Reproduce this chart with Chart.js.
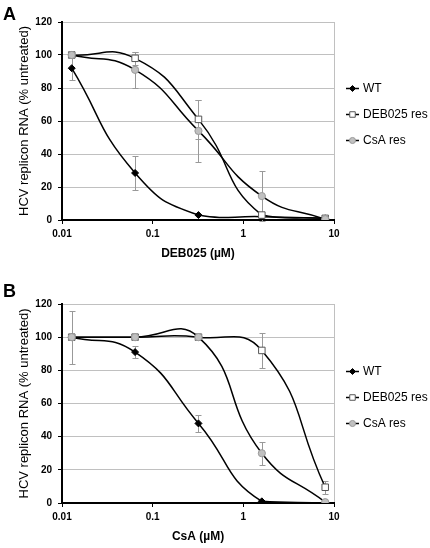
<!DOCTYPE html>
<html>
<head>
<meta charset="utf-8">
<script src="https://cdn.jsdelivr.net/npm/chart.js@4.4.1/dist/chart.umd.min.js"></script>
<style>
  html, body { margin: 0; padding: 0; background: #fff; }
  canvas { display: block; }
</style>
</head>
<body>
<canvas id="chartA" width="430" height="270"></canvas>
<canvas id="chartB" width="430" height="278"></canvas>
<script>
const concentrations = [0.0128, 0.064, 0.32, 1.6, 8];
const seriesNames = ['WT', 'DEB025 res', 'CsA res'];
const xTickValues = [0.01, 0.1, 1, 10];

// panel A - DEB025 titration
const wtA = [92, 28.5, 3, 2, 1];
const debResA = [100, 98, 61, 3, 1];
const csaResA = [100, 91, 54, 14.5, 0.5];
const wtErrA = [7, 10.5, 0, 0, 0];
const debResErrA = [0, 4, 12, 0, 0];
const csaResErrA = [0, 11, 19, 15, 0];

// panel B - CsA titration
const wtB = [100, 91, 48, 1, 0];
const debResB = [100, 100, 100, 92, 9.5];
const csaResB = [100, 100, 100, 30, 0.5];
const wtErrB = [0, 3.5, 5, 0, 0];
const debResErrB = [16, 0, 0, 10.5, 4];
const csaResErrB = [0, 0, 0, 7, 0];

const looks = [
  { pointStyle: 'rectRot', radius: 3.5, fill: '#000', stroke: '#000' },
  { pointStyle: 'rect', radius: 4.6, fill: '#fff', stroke: '#555' },
  { pointStyle: 'circle', radius: 3.6, fill: '#c0c0c0', stroke: '#999' }
];

function makeDataset(i, values, errors) {
  return {
    label: seriesNames[i],
    data: concentrations.map((c, k) => ({ x: c, y: values[k] })),
    errors: errors,
    order: 2 - i, // gray circles end up on top, like the original
    borderColor: '#000',
    borderWidth: 1.5,
    tension: 0.5,
    pointStyle: looks[i].pointStyle,
    pointRadius: looks[i].radius,
    pointBackgroundColor: looks[i].fill,
    pointBorderColor: looks[i].stroke,
    pointBorderWidth: 1
  };
}

const errorBars = {
  id: 'errorBars',
  beforeDatasetsDraw(chart) {
    const { ctx, scales: { x, y } } = chart;
    ctx.save();
    ctx.strokeStyle = '#999';
    ctx.lineWidth = 1;
    chart.data.datasets.forEach(ds => {
      ds.errors.forEach((e, i) => {
        if (!e) return;
        const p = ds.data[i];
        const px = Math.round(x.getPixelForValue(p.x)) + 0.5;
        const top = Math.round(y.getPixelForValue(p.y + e)) + 0.5;
        const bot = Math.round(y.getPixelForValue(p.y - e)) + 0.5;
        ctx.beginPath();
        ctx.moveTo(px, top); ctx.lineTo(px, bot);
        ctx.moveTo(px - 3, top); ctx.lineTo(px + 3, top);
        ctx.moveTo(px - 3, bot); ctx.lineTo(px + 3, bot);
        ctx.stroke();
      });
    });
    ctx.restore();
  }
};

const sideLegend = {
  id: 'sideLegend',
  afterDraw(chart) {
    const { ctx, chartArea } = chart;
    const x0 = chartArea.right + 12;
    const midY = (chartArea.top + chartArea.bottom) / 2 - 7;
    ctx.save();
    chart.data.datasets.forEach((ds, i) => {
      const yy = Math.round(midY + (i - 1) * 26) + 0.5;
      ctx.strokeStyle = '#000';
      ctx.lineWidth = 1.5;
      ctx.beginPath();
      ctx.moveTo(x0, yy); ctx.lineTo(x0 + 13, yy);
      ctx.stroke();
      ctx.fillStyle = looks[i].fill;
      ctx.strokeStyle = looks[i].stroke;
      ctx.lineWidth = 1;
      Chart.helpers.drawPoint(ctx, { pointStyle: looks[i].pointStyle, radius: looks[i].radius * 0.85, rotation: 0, borderWidth: 1 }, x0 + 6.5, yy);
      ctx.fillStyle = '#000';
      ctx.font = '12px "Liberation Sans", Arial, sans-serif';
      ctx.textBaseline = 'middle';
      ctx.fillText(ds.label, x0 + 17, yy);
    });
    ctx.restore();
  }
};

const panelLetter = {
  id: 'panelLetter',
  afterDraw(chart, args, opts) {
    const { ctx } = chart;
    ctx.save();
    ctx.fillStyle = '#000';
    ctx.font = 'bold 18px "Liberation Sans", Arial, sans-serif';
    ctx.textBaseline = 'alphabetic';
    ctx.fillText(opts.text, 3, opts.baseline);
    ctx.restore();
  }
};

Chart.defaults.color = '#000';
Chart.defaults.font.family = '"Liberation Sans", Arial, sans-serif';

function makeChart(id, letter, letterBase, xTitle, datasets, topPad, xHeight, xTitlePad) {
  return new Chart(document.getElementById(id), {
    type: 'line',
    data: { datasets: datasets },
    plugins: [errorBars, sideLegend, panelLetter],
    options: {
      responsive: false,
      animation: false,
      layout: { padding: { top: topPad, right: 96, left: 0, bottom: 0 } },
      plugins: {
        legend: { display: false },
        tooltip: { enabled: false },
        panelLetter: { text: letter, baseline: letterBase }
      },
      scales: {
        x: {
          type: 'logarithmic',
          min: 0.01,
          max: 10,
          afterBuildTicks: scale => { scale.ticks = xTickValues.map(v => ({ value: v })); },
          afterFit: scale => { scale.height = xHeight; },
          ticks: {
            callback: v => String(v),
            font: { size: 10, weight: 'bold' },
            padding: 4,
            maxRotation: 0,
            autoSkip: false
          },
          grid: {
            color: c => (c.tick && c.tick.value === 10) ? '#c0c0c0' : 'rgba(0,0,0,0)',
            tickColor: '#000',
            tickLength: 4,
            lineWidth: 1
          },
          border: { color: '#000', width: 2 },
          title: {
            display: true,
            text: xTitle,
            font: { size: 12, weight: 'bold' },
            padding: { top: 0, bottom: xTitlePad }
          }
        },
        y: {
          min: 0,
          max: 120,
          afterFit: scale => { scale.width = 62; },
          ticks: {
            stepSize: 20,
            font: { size: 10, weight: 'bold' },
            padding: 6
          },
          grid: {
            color: '#c0c0c0',
            tickColor: '#000',
            tickLength: 4,
            lineWidth: 1
          },
          border: { color: '#000', width: 2 },
          title: {
            display: true,
            text: 'HCV replicon RNA (% untreated)',
            font: { size: 13 },
            padding: { top: 17, bottom: 0 }
          }
        }
      }
    }
  });
}

makeChart('chartA', 'A', 20, 'DEB025 (\u00b5M)', [
  makeDataset(0, wtA, wtErrA),
  makeDataset(1, debResA, debResErrA),
  makeDataset(2, csaResA, csaResErrA)
], 22, 50, 9);

makeChart('chartB', 'B', 27, 'CsA (\u00b5M)', [
  makeDataset(0, wtB, wtErrB),
  makeDataset(1, debResB, debResErrB),
  makeDataset(2, csaResB, csaResErrB)
], 34, 45, 4);
</script>
</body>
</html>
